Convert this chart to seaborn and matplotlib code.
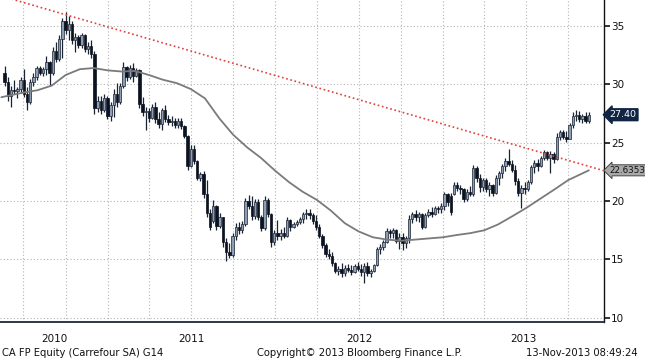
import numpy as np
import pandas as pd
import seaborn as sns
import matplotlib.pyplot as plt
import matplotlib.dates as mdates

# weekly candles for CA FP Equity (May 2010 - Nov 2013)
opens = [31.0, 30.2, 29.0, 29.5, 29.4, 29.6, 30.4, 29.2, 28.5, 30.2, 30.6, 31.4, 31.0, 31.3, 31.9, 31.0, 32.9,
         32.2, 33.9, 35.4, 34.7, 35.2, 33.8, 34.1, 33.4, 34.2, 33.0, 33.3, 32.6, 28.0, 28.6, 27.8, 28.8, 27.3,
         28.2, 29.2, 28.5, 29.9, 31.5, 30.6, 31.4, 30.7, 31.2, 28.3, 27.6, 27.7, 27.1, 28.1, 27.0, 26.6, 27.8,
         27.0, 26.8, 26.9, 26.5, 26.9, 26.4, 25.6,
         23.0, 24.5, 23.4, 22.0, 22.3, 20.6, 19.0, 18.3, 19.6, 17.9, 18.6, 16.5, 15.6, 15.4, 17.0, 17.8, 17.5,
         18.0, 20.0, 19.6, 18.7, 19.9, 18.6,
         17.7, 20.1, 18.9, 16.5, 17.3, 17.0, 17.3, 17.0, 18.4, 17.8, 18.0, 18.2, 18.5, 18.9, 19.0, 18.8, 18.3,
         17.8, 17.0, 16.2, 15.5, 15.3, 14.7, 14.0, 14.2, 13.8, 14.3, 14.1, 13.9, 14.4, 14.2, 13.9, 14.4, 13.8,
         14.0, 14.5, 15.9, 16.1, 16.5, 17.4, 17.3, 17.5, 16.6,
         16.9, 16.4, 16.8, 18.5, 18.9, 18.6, 18.9, 17.8, 18.8, 19.1, 18.9, 19.4, 19.3, 19.6, 20.6, 20.4, 20.6,
         21.4, 21.1, 21.0, 20.2, 20.8, 20.6, 22.8, 22.0, 21.2, 21.8, 21.0, 21.4, 20.7, 22.0, 22.4, 23.0, 23.4,
         23.2, 22.7, 21.7, 20.7, 21.1, 21.0, 21.6, 22.9, 23.3, 23.0, 23.7, 24.2, 23.7, 24.0, 23.6, 25.5, 25.9,
         25.5, 25.3, 26.5, 27.3, 27.4, 27.0, 27.3, 26.9]
highs = [31.6, 30.6, 29.9, 30.4, 29.8, 30.6, 31.3, 29.8, 30.5, 31.0, 31.6, 31.6, 31.5, 32.4, 32.0, 33.2, 33.6,
         34.2, 35.7, 36.2, 35.9, 35.4, 34.4, 34.2, 34.4, 34.3, 33.6, 33.8, 32.9, 29.0, 29.0, 29.2, 29.0, 28.5,
         29.6, 30.1, 30.1, 31.9, 31.6, 31.7, 31.8, 31.4, 31.3, 28.9, 28.1, 28.0, 28.3, 28.5, 27.6, 28.0, 28.2,
         27.4, 27.3, 27.1, 27.1, 27.1, 26.5, 25.7,
         24.8, 24.8, 23.5, 22.5, 22.6, 21.8, 19.3, 20.1, 19.7, 19.0, 18.6, 16.8, 16.4, 17.3, 18.1, 18.2, 18.3,
         20.3, 20.5, 20.4, 20.2, 20.2, 18.8,
         20.4, 20.3, 19.0, 17.5, 18.4, 17.6, 17.8, 18.6, 18.5, 18.2, 18.4, 18.6, 19.1, 19.3, 19.3, 19.0, 18.8,
         18.0, 17.2, 16.4, 15.9, 15.6, 14.8, 14.4, 14.7, 14.5, 14.6, 14.5, 14.6, 14.8, 14.6, 14.7, 14.8, 14.2,
         14.6, 16.1, 16.3, 16.7, 17.7, 17.6, 17.7, 17.6, 17.3,
         17.3, 17.0, 18.8, 19.1, 19.2, 19.1, 19.0, 19.0, 19.3, 19.5, 19.6, 19.6, 19.8, 20.8, 20.7, 20.7, 21.6,
         21.6, 21.4, 21.1, 21.0, 21.3, 23.1, 23.0, 22.3, 22.0, 22.0, 21.6, 21.5, 22.2, 22.6, 23.2, 23.7, 24.5,
         23.5, 23.1, 22.0, 21.4, 21.6, 21.8, 23.1, 23.5, 23.6, 23.9, 24.4, 24.3, 24.3, 24.2, 25.8, 26.1, 26.1,
         26.0, 26.7, 27.6, 27.8, 27.7, 27.5, 27.6, 27.6]
lows = [29.9, 28.6, 28.1, 29.2, 28.8, 29.3, 28.9, 27.8, 28.3, 29.9, 30.4, 30.8, 30.7, 30.8, 29.9, 30.8, 31.9,
        32.0, 32.3, 34.3, 33.8, 33.5, 32.8, 33.1, 33.1, 32.8, 32.6, 32.3, 27.5, 27.6, 27.5, 27.6, 27.0, 26.9,
        27.2, 28.1, 28.3, 29.7, 30.3, 30.5, 30.2, 30.6, 28.0, 27.3, 26.1, 26.8, 27.0, 26.7, 26.3, 26.1, 26.8,
        26.5, 26.4, 26.3, 26.3, 26.2, 25.4, 22.7,
        22.9, 23.2, 21.8, 21.7, 20.3, 18.6, 17.5, 18.1, 17.5, 17.7, 16.1, 14.9, 15.1, 15.2, 16.7, 17.2, 17.3,
        17.9, 19.3, 18.4, 18.5, 18.4, 17.4,
        17.5, 18.6, 16.1, 16.2, 16.7, 16.7, 16.8, 16.9, 17.4, 17.7, 17.9, 18.0, 18.1, 18.5, 18.5, 18.0, 17.5,
        16.8, 16.0, 15.2, 15.0, 14.4, 13.8, 13.7, 13.5, 13.6, 13.9, 13.7, 13.8, 14.0, 13.6, 13.0, 13.6, 13.5,
        13.9, 14.4, 15.5, 15.8, 16.4, 16.8, 16.8, 16.4, 15.9,
        15.8, 16.0, 16.4, 18.1, 18.3, 18.2, 17.6, 17.7, 18.6, 18.6, 18.8, 19.0, 19.0, 19.2, 19.6, 18.8, 20.5,
        20.9, 20.6, 19.9, 20.0, 20.4, 20.4, 21.6, 20.8, 20.9, 20.8, 20.4, 20.4, 20.6, 21.4, 22.0, 22.6, 23.0,
        22.5, 21.4, 20.4, 19.4, 20.6, 20.9, 21.5, 22.4, 22.6, 22.9, 23.5, 23.5, 22.4, 23.3, 23.5, 25.2, 25.3,
        25.1, 25.3, 26.3, 26.9, 26.8, 26.7, 26.7, 26.7]
closes = [30.2, 29.0, 29.5, 29.4, 29.6, 30.4, 29.2, 28.5, 30.2, 30.6, 31.4, 31.0, 31.3, 31.9, 31.0, 32.9, 32.2,
          33.9, 35.4, 34.7, 35.2, 33.8, 34.1, 33.4, 34.2, 33.0, 33.3, 32.6, 28.0, 28.6, 27.8, 28.8, 27.3, 28.2,
          29.2, 28.5, 29.9, 31.5, 30.6, 31.4, 30.7, 31.2, 28.3, 27.6, 27.7, 27.1, 28.1, 27.0, 26.6, 27.8, 27.0,
          26.8, 26.9, 26.5, 26.9, 26.4, 25.6, 23.0,
          24.5, 23.4, 22.0, 22.3, 20.6, 19.0, 17.8, 19.6, 17.9, 18.6, 16.5, 15.6, 15.4, 17.0, 17.8, 17.5, 18.0,
          20.0, 19.6, 18.7, 19.9, 18.6, 17.7,
          20.1, 18.9, 16.5, 17.3, 17.0, 17.3, 17.0, 18.4, 17.8, 18.0, 18.2, 18.5, 18.9, 19.0, 18.8, 18.3, 17.8,
          17.0, 16.2, 15.5, 15.3, 14.7, 14.0, 14.2, 13.8, 14.3, 14.1, 13.9, 14.4, 14.2, 13.9, 14.4, 13.8, 14.0,
          14.5, 15.9, 16.1, 16.5, 17.4, 17.3, 17.5, 16.6, 16.9,
          16.4, 16.8, 18.5, 18.9, 18.6, 18.9, 17.8, 18.8, 19.1, 18.9, 19.4, 19.3, 19.6, 20.6, 19.9, 19.1, 21.4,
          21.1, 21.0, 20.2, 20.8, 20.6, 22.8, 22.0, 21.2, 21.8, 21.0, 21.4, 20.7, 22.0, 22.4, 23.0, 23.4, 23.2,
          22.7, 21.7, 20.7, 21.1, 21.0, 21.6, 22.9, 23.3, 23.0, 23.7, 24.2, 23.7, 24.0, 23.6, 25.5, 25.9, 25.5,
          25.3, 26.5, 27.3, 27.4, 27.0, 27.3, 26.9, 27.40]

# moving average (grey line), read monthly
ma_dates = ['2010-05-14', '2010-07-01', '2010-08-01', '2010-09-01', '2010-10-01', '2010-11-01', '2010-12-01',
            '2011-01-01', '2011-02-01', '2011-03-01', '2011-04-01', '2011-05-01', '2011-06-01', '2011-07-01',
            '2011-08-01', '2011-09-01', '2011-10-01', '2011-11-01', '2011-12-01', '2012-01-01', '2012-02-01',
            '2012-03-01', '2012-04-01', '2012-05-01', '2012-06-01', '2012-07-01', '2012-08-01', '2012-09-01',
            '2012-10-01', '2012-11-01', '2012-12-01', '2013-01-01', '2013-02-01', '2013-03-01', '2013-04-01',
            '2013-05-01', '2013-06-01', '2013-07-01', '2013-08-01', '2013-09-01', '2013-10-01', '2013-11-15']
ma_values = [28.9, 29.3, 29.5, 29.9, 30.8, 31.3, 31.4, 31.2, 31.1, 31.15, 30.8, 30.4, 30.1, 29.6, 28.8, 27.1,
             25.7, 24.6, 23.7, 22.6, 21.6, 20.8, 20.1, 19.2, 18.1, 17.4, 16.9, 16.7, 16.6, 16.7, 16.8, 16.9,
             17.1, 17.25, 17.5, 18.0, 18.7, 19.4, 20.2, 21.0, 21.8, 22.6353]

# red dotted trend line
trend_dates = ['2010-05-11', '2013-12-18']
trend_values = [37.6, 22.6]

last_price = 27.40
last_ma = 22.6353
years = [2010, 2011, 2012, 2013]
yticks = [10, 15, 20, 25, 30, 35]

sns.set_style('white')
plt.rcParams['font.family'] = ['Liberation Sans Narrow', 'DejaVu Sans']

dates = pd.date_range(end='2013-11-15', periods=len(closes), freq='W-FRI')
df = pd.DataFrame({'date': dates, 'open': opens, 'high': highs, 'low': lows, 'close': closes})
df['x'] = mdates.date2num(df['date'])
up = df['close'] >= df['open']

fig = plt.figure(figsize=(6.45, 3.6), dpi=100)
ax = fig.add_axes([0, 38 / 360, 604 / 645, 322 / 360])

x0 = mdates.date2num(pd.Timestamp('2010-05-11'))
x1 = mdates.date2num(pd.Timestamp('2013-12-18'))

# candles
ax.vlines(df['x'], df['low'], df['high'], color='#1b2433', lw=0.9, zorder=3)
u = df[up]
d = df[~up]
ax.bar(u['x'], u['close'] - u['open'], bottom=u['open'], width=5.2, color='#8d9db3',
       edgecolor='#1b2433', lw=0.5, zorder=4)
ax.bar(d['x'], d['close'] - d['open'], bottom=d['open'], width=5.2, color='#0b1220',
       edgecolor='#0b1220', lw=0.5, zorder=4)

# moving average
ma = pd.DataFrame({'x': mdates.date2num(pd.to_datetime(ma_dates)), 'ma': ma_values})
sns.lineplot(data=ma, x='x', y='ma', color='#7a7a7a', lw=1.3, ax=ax, zorder=5)

# trend line
ax.plot(mdates.date2num(pd.to_datetime(trend_dates)), trend_values, color='#e0403a',
        ls=(0, (1, 1.6)), lw=1.2, zorder=6)

ax.set_xlim(x0, x1)
ax.set_ylim(9.64, 37.23)
ax.set_xlabel('')
ax.set_ylabel('')

# quarterly ticks + grid
qt = mdates.date2num(pd.date_range('2010-07-01', '2013-10-01', freq='QS'))
ax.set_xticks(qt)
ax.set_xticklabels([''] * len(qt))
centers = []
for y in years:
    a = max(mdates.date2num(pd.Timestamp(f'{y}-01-01')), x0)
    b = min(mdates.date2num(pd.Timestamp(f'{y + 1}-01-01')), x1)
    centers.append((a + b) / 2)
ax.set_xticks(centers, minor=True)
ax.set_xticklabels([str(y) for y in years], minor=True)
ax.tick_params(axis='x', which='major', direction='out', length=4, width=1, color='#1b2a3d')
ax.tick_params(axis='x', which='minor', length=0, pad=9, labelsize=7.5, labelcolor='#111111')

ax.yaxis.tick_right()
ax.set_yticks(yticks)
ax.set_yticklabels([str(v) for v in yticks])
ax.tick_params(axis='y', direction='out', length=4, width=1.2, color='#111111', pad=1,
               labelsize=7.5, labelcolor='#111111')

ax.grid(True, which='major', ls=(0, (1, 2)), color='#b5b5b5', lw=0.8)
for s in ['left', 'top']:
    ax.spines[s].set_visible(False)
ax.spines['right'].set_color('#111111')
ax.spines['right'].set_linewidth(1)
ax.spines['bottom'].set_color('#1b2a3d')
ax.spines['bottom'].set_linewidth(1.3)

# value tags on the right axis
ax.annotate(f'{last_price:.2f}', xy=(1.0, last_price), xycoords=('axes fraction', 'data'),
            xytext=(4, 0), textcoords='offset points', ha='left', va='center', color='white',
            fontsize=6.8, bbox=dict(boxstyle='larrow,pad=0.15', fc='#102544', ec='#102544'),
            annotation_clip=False)
ax.annotate(f'{last_ma:.4f}', xy=(1.0, last_ma), xycoords=('axes fraction', 'data'),
            xytext=(4, 0), textcoords='offset points', ha='left', va='center', color='#111111',
            fontsize=6.3, bbox=dict(boxstyle='larrow,pad=0.12', fc='#a8a8a8', ec='#333333', lw=0.6),
            annotation_clip=False)

# footer
fig.text(2 / 645, 1 - 353 / 360, 'CA FP Equity (Carrefour SA) G14', ha='left', va='center',
         fontsize=7.2, color='#111111')
fig.text(360 / 645, 1 - 353 / 360, 'Copyright© 2013 Bloomberg Finance L.P.', ha='center', va='center',
         fontsize=7.2, color='#111111')
fig.text(638 / 645, 1 - 353 / 360, '13-Nov-2013 08:49:24', ha='right', va='center',
         fontsize=7.2, color='#111111')

fig.savefig('out.png', dpi=100)
